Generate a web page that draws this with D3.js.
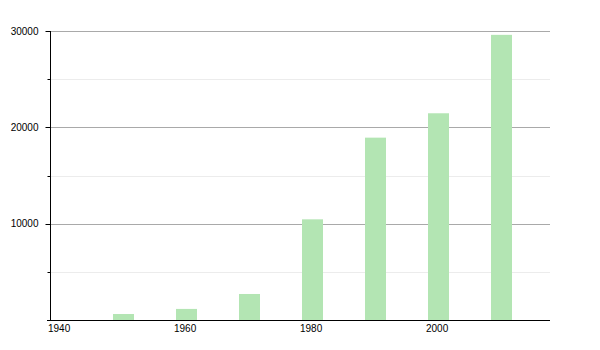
<!DOCTYPE html>
<html>
<head>
<meta charset="utf-8">
<script src="https://cdn.jsdelivr.net/npm/d3@7"></script>
<style>
  body { margin: 0; background: #fff; }
  text { font-family: "Liberation Sans", Arial, sans-serif; font-size: 10px; fill: #000; }
</style>
</head>
<body>
<script>
// dati: anni e popolazione
var years = [1950, 1960, 1970, 1980, 1990, 2000, 2010];
var population = [620, 1150, 2700, 10450, 18930, 21460, 29600];
var xTicks = [1940, 1960, 1980, 2000];
var yMajor = [10000, 20000, 30000];
var yMinor = [5000, 15000, 25000];

var width = 600, height = 350;
var mLeft = 50, mRight = 554, mTop = 31, mBottom = 320;

var svg = d3.select("body").append("svg")
    .attr("width", width)
    .attr("height", height);

var x = d3.scaleLinear().domain([1940, 2020]).range([mLeft, mRight]);
var y = d3.scaleLinear().domain([0, 30000]).range([mBottom, mTop]);

// griglia minore
svg.append("g").selectAll("line")
    .data(yMinor).enter().append("line")
    .attr("x1", mLeft).attr("x2", 550)
    .attr("y1", function(d){ return Math.round(y(d)) + 0.5; })
    .attr("y2", function(d){ return Math.round(y(d)) + 0.5; })
    .attr("stroke", "#ececec");

// griglia maggiore
svg.append("g").selectAll("line")
    .data(yMajor).enter().append("line")
    .attr("x1", mLeft).attr("x2", 550)
    .attr("y1", function(d){ return Math.round(y(d)) + 0.5; })
    .attr("y2", function(d){ return Math.round(y(d)) + 0.5; })
    .attr("stroke", "#a9a9a9");

// barre
svg.append("g").selectAll("rect")
    .data(years).enter().append("rect")
    .attr("x", function(d){ return x(d); })
    .attr("width", 21)
    .attr("y", function(d,i){ return y(population[i]); })
    .attr("height", function(d,i){ return mBottom - y(population[i]); })
    .attr("fill", "#b3e5b3");

// asse y
var yAxis = svg.append("g").attr("transform", "translate(" + (mLeft + 0.5) + ",0)");
yAxis.append("line")
    .attr("y1", mTop).attr("y2", mBottom)
    .attr("stroke", "#000");
yAxis.selectAll(".maj").data(yMajor).enter().append("line")
    .attr("x1", -5).attr("x2", 0)
    .attr("y1", function(d){ return Math.round(y(d)) + 0.5; })
    .attr("y2", function(d){ return Math.round(y(d)) + 0.5; })
    .attr("stroke", "#000");
yAxis.selectAll(".min").data(yMinor).enter().append("line")
    .attr("x1", -3).attr("x2", 0)
    .attr("y1", function(d){ return Math.round(y(d)) + 0.5; })
    .attr("y2", function(d){ return Math.round(y(d)) + 0.5; })
    .attr("stroke", "#000");
yAxis.selectAll("text").data(yMajor).enter().append("text")
    .attr("x", -12)
    .attr("y", function(d){ return y(d); })
    .attr("dy", "0.35em")
    .attr("text-anchor", "end")
    .text(function(d){ return d; });

// asse x
svg.append("line")
    .attr("x1", 47).attr("x2", 550)
    .attr("y1", mBottom + 0.5).attr("y2", mBottom + 0.5)
    .attr("stroke", "#000");
svg.append("g").selectAll("text")
    .data(xTicks).enter().append("text")
    .attr("x", function(d){ return x(d) - 2; })
    .attr("y", 332)
    .attr("text-anchor", "start")
    .text(function(d){ return d; });
</script>
</body>
</html>
